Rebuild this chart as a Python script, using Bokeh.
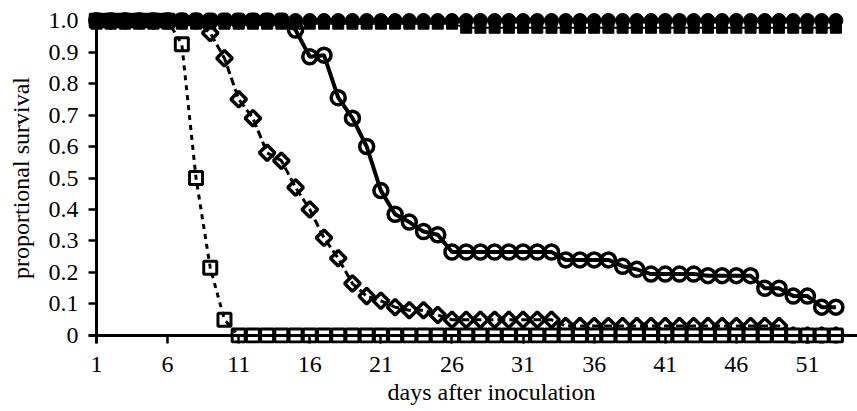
import math
from bokeh.plotting import figure
from bokeh.models import ColumnDataSource, FixedTicker, CustomJSTickFormatter, Span, Title
from bokeh.embed import file_html
from bokeh.resources import INLINE

days = list(range(1, 54))

# filled circles, stays at 1.0
surv_a = [1.0, 1.0, 1.0, 1.0, 1.0, 1.0, 1.0, 1.0, 1.0, 1.0,
          1.0, 1.0, 1.0, 1.0, 1.0, 1.0, 1.0, 1.0, 1.0, 1.0,
          1.0, 1.0, 1.0, 1.0, 1.0, 1.0, 1.0, 1.0, 1.0, 1.0,
          1.0, 1.0, 1.0, 1.0, 1.0, 1.0, 1.0, 1.0, 1.0, 1.0,
          1.0, 1.0, 1.0, 1.0, 1.0, 1.0, 1.0, 1.0, 1.0, 1.0,
          1.0, 1.0, 1.0]
# filled squares, just below 1.0
surv_b = [0.99, 0.99, 0.99, 0.99, 0.99, 0.99, 0.99, 0.99, 0.99, 0.99,
          0.99, 0.99, 0.99, 0.99, 0.99, 0.99, 0.99, 0.99, 0.99, 0.99,
          0.99, 0.99, 0.99, 0.99, 0.99, 0.99, 0.977, 0.977, 0.977, 0.977,
          0.977, 0.977, 0.977, 0.977, 0.977, 0.977, 0.977, 0.977, 0.977, 0.977,
          0.977, 0.977, 0.977, 0.977, 0.977, 0.977, 0.977, 0.977, 0.977, 0.977,
          0.977, 0.977, 0.977]
# open circles, thick solid line
surv_c = [1.0, 1.0, 1.0, 1.0, 1.0, 1.0, 1.0, 1.0, 1.0, 1.0,
          1.0, 1.0, 1.0, 1.0, 0.97, 0.885, 0.89, 0.755, 0.69, 0.60,
          0.46, 0.385, 0.36, 0.33, 0.32, 0.265, 0.265, 0.265, 0.265, 0.265,
          0.265, 0.265, 0.265, 0.24, 0.24, 0.24, 0.24, 0.22, 0.21, 0.195,
          0.195, 0.195, 0.195, 0.19, 0.19, 0.19, 0.19, 0.15, 0.15, 0.125,
          0.125, 0.09, 0.09]
# open diamonds, dashed line
surv_d = [1.0, 1.0, 1.0, 1.0, 1.0, 1.0, 1.0, 1.0, 0.96, 0.88,
          0.75, 0.69, 0.58, 0.555, 0.47, 0.40, 0.31, 0.245, 0.165, 0.125,
          0.11, 0.09, 0.08, 0.08, 0.065, 0.05, 0.05, 0.05, 0.05, 0.05,
          0.05, 0.05, 0.05, 0.03, 0.03, 0.03, 0.03, 0.03, 0.03, 0.03,
          0.03, 0.03, 0.03, 0.03, 0.03, 0.03, 0.03, 0.03, 0.03, 0.0,
          0.0, 0.0, 0.0]
# open squares, dotted line
surv_e = [1.0, 1.0, 1.0, 1.0, 1.0, 1.0, 0.925, 0.50, 0.215, 0.05,
          0.0, 0.0, 0.0, 0.0, 0.0, 0.0, 0.0, 0.0, 0.0, 0.0,
          0.0, 0.0, 0.0, 0.0, 0.0, 0.0, 0.0, 0.0, 0.0, 0.0,
          0.0, 0.0, 0.0, 0.0, 0.0, 0.0, 0.0, 0.0, 0.0, 0.0,
          0.0, 0.0, 0.0, 0.0, 0.0, 0.0, 0.0, 0.0, 0.0, 0.0,
          0.0, 0.0, 0.0]

x_ticks = [1, 6, 11, 16, 21, 26, 31, 36, 41, 46, 51]
y_ticks = [0, 0.1, 0.2, 0.3, 0.4, 0.5, 0.6, 0.7, 0.8, 0.9, 1.0]
x_title = "days after inoculation"
y_title = "proportional survival"

FONT = "Liberation Serif"
FS = "24px"

src = ColumnDataSource(dict(day=days, a=surv_a, b=surv_b, c=surv_c, d=surv_d, e=surv_e))

p = figure(width=857, height=411, x_range=(0.4374, 54.52), y_range=(-0.0254, 1.0254),
           output_backend="svg", toolbar_location=None,
           min_border_left=88, min_border_right=0, min_border_top=12, min_border_bottom=68)
p.outline_line_color = None
p.xgrid.grid_line_color = None
p.ygrid.grid_line_color = None
p.background_fill_color = "white"
p.border_fill_color = "white"

# diamonds, dashed
p.scatter("day", "d", source=src, marker="square", angle=math.pi / 4, size=11,
          fill_color="white", line_color="black", line_width=3.5)
p.line("day", "d", source=src, line_color="black", line_width=3, line_dash="8 4")

# open circles, thick solid
p.scatter("day", "c", source=src, marker="circle", size=14,
          fill_color="white", line_color="black", line_width=3.5)
p.line("day", "c", source=src, line_color="black", line_width=4)

# open squares, dotted
p.scatter("day", "e", source=src, marker="square", size=13,
          fill_color="white", line_color="black", line_width=3)
p.line("day", "e", source=src, line_color="black", line_width=3, line_dash="5 5")

# filled top series
p.line("day", "b", source=src, line_color="black", line_width=2)
p.scatter("day", "b", source=src, marker="square", size=11,
          fill_color="black", line_color="black", line_width=1)
p.line("day", "a", source=src, line_color="black", line_width=2)
p.scatter("day", "a", source=src, marker="circle", size=14,
          fill_color="black", line_color="black", line_width=1)

# axis lines crossing at (1, 0)
p.add_layout(Span(location=1, dimension="height", line_color="black", line_width=3))
p.add_layout(Span(location=0, dimension="width", line_color="black", line_width=3))

for ax in (p.xaxis[0], p.yaxis[0]):
    ax.axis_line_color = None
    ax.major_tick_line_color = "black"
    ax.major_tick_line_width = 2.5
    ax.major_tick_out = 0
    ax.major_tick_in = 8
    ax.minor_tick_line_color = None
    ax.minor_tick_out = 0
    ax.minor_tick_in = 0
    ax.major_label_text_font = FONT
    ax.major_label_text_font_size = FS
    ax.major_label_text_color = "black"
    ax.axis_label_text_font = FONT
    ax.axis_label_text_font_size = FS
    ax.axis_label_text_font_style = "normal"
    ax.axis_label_text_color = "black"

p.xaxis[0].ticker = FixedTicker(ticks=x_ticks)
p.xaxis[0].major_label_standoff = 13

p.yaxis[0].ticker = FixedTicker(ticks=y_ticks)
p.yaxis[0].formatter = CustomJSTickFormatter(code="return tick == 0 ? '0' : tick.toFixed(1);")
p.yaxis[0].major_label_standoff = 10
p.yaxis[0].axis_label = y_title
p.yaxis[0].axis_label_standoff = 12

xt = Title(text=x_title, align="left", offset=299, vertical_align="top", standoff=8,
           text_font=FONT, text_font_size=FS, text_font_style="normal", text_color="black")
p.add_layout(xt, "below")

open("out.html", "w").write(file_html(p, INLINE))
